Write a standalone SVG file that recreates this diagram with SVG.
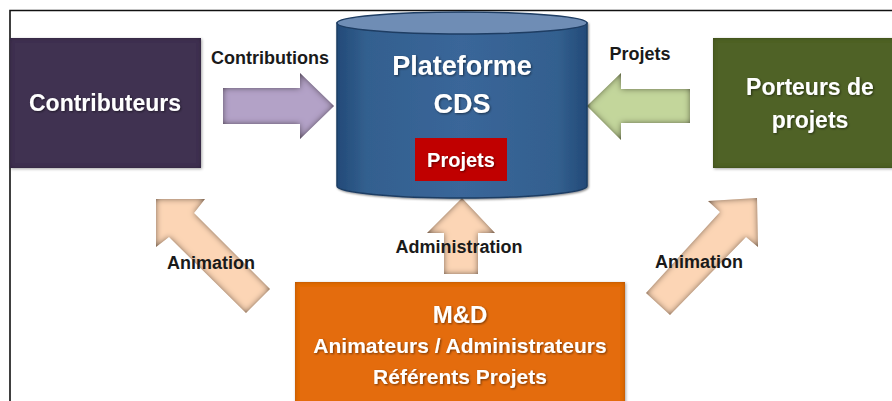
<svg xmlns="http://www.w3.org/2000/svg" width="892" height="401" viewBox="0 0 892 401">
<defs>
<style>
.node-t{font-family:"Liberation Sans",Arial,sans-serif;font-weight:bold;fill:#ffffff;text-anchor:middle;filter:url(#tshadow)}
.lbl{font-family:"Liberation Sans",Arial,sans-serif;font-weight:bold;font-size:18px;fill:#1a1a1a;text-anchor:middle}
.arrow{filter:url(#inner)}
</style>
<filter id="inner" x="-10%" y="-10%" width="120%" height="120%">
<feGaussianBlur in="SourceAlpha" stdDeviation="3" result="b"/>
<feComposite in="SourceAlpha" in2="b" operator="out" result="edge"/>
<feFlood flood-color="#2a1a10" flood-opacity="1"/>
<feComposite in2="edge" operator="in" result="shade"/>
<feMerge><feMergeNode in="SourceGraphic"/><feMergeNode in="shade"/></feMerge>
</filter>
<filter id="box" x="-10%" y="-10%" width="120%" height="120%">
<feGaussianBlur in="SourceAlpha" stdDeviation="2" result="b"/>
<feComposite in="SourceAlpha" in2="b" operator="out" result="edge"/>
<feFlood flood-color="#000000" flood-opacity="0.5"/>
<feComposite in2="edge" operator="in" result="shade"/>
<feDropShadow dx="1" dy="1" stdDeviation="1.5" flood-opacity="0.35" in="SourceGraphic" result="ds"/>
<feMerge><feMergeNode in="ds"/><feMergeNode in="shade"/></feMerge>
</filter>
<filter id="tshadow" x="-5%" y="-20%" width="110%" height="140%">
<feDropShadow dx="1" dy="1" stdDeviation="1" flood-color="#000" flood-opacity="0.5"/>
</filter>
<linearGradient id="cyl" x1="0" y1="0" x2="1" y2="0">
<stop offset="0" stop-color="#234a78"/>
<stop offset="0.12" stop-color="#33608f"/>
<stop offset="0.5" stop-color="#3a6699"/>
<stop offset="0.88" stop-color="#33608f"/>
<stop offset="1" stop-color="#234a78"/>
</linearGradient>
</defs>
<rect width="892" height="401" fill="#ffffff"/>
<path d="M10 401 V10.5 H892" fill="none" stroke="#111" stroke-width="1.6"/>

<g id="connectors">
<g id="c-contributions">
<polygon class="arrow" fill="#b3a2c7" points="223,88 300,88 300,73 334,106 300,139 300,124 223,124"/>
<text class="lbl" x="270" y="64">Contributions</text>
</g>
<g id="c-projets">
<polygon class="arrow" fill="#c3d69b" points="690,89 621,89 621,73 587,106 621,140 621,123 690,123"/>
<text class="lbl" x="640" y="60">Projets</text>
</g>
<g id="c-administration">
<polygon class="arrow" fill="#fcd5b5" points="444,274 444,233 427,233 462,198 495,233 478,233 478,274"/>
<text class="lbl" x="459" y="253">Administration</text>
</g>
<g id="c-animation-left">
<polygon class="arrow" fill="#fcd5b5" points="156,199 205,199 194,213 270,289 246,313 169,237 156,247"/>
<text class="lbl" x="211" y="269">Animation</text>
</g>
<g id="c-animation-right">
<polygon class="arrow" fill="#fcd5b5" points="757,198 758,247 746,237 670,315 646,293 720,212 708,201"/>
<text class="lbl" x="699" y="268">Animation</text>
</g>
</g>

<g id="contributeurs">
<rect x="10" y="38" width="191" height="130" fill="#3f3151" filter="url(#box)"/>
<text class="node-t" x="105" y="111" font-size="23">Contributeurs</text>
</g>

<g id="plateforme">
<path d="M337 23 V186 A125 12 0 0 0 587 186 V23 Z" fill="url(#cyl)" stroke="#1e3d63" stroke-width="1.5" filter="url(#tshadow)"/>
<ellipse cx="462" cy="23" rx="125" ry="11" fill="#6f8db5" stroke="#1e3d63" stroke-width="1.5"/>
<text class="node-t" x="462" y="75" font-size="27">Plateforme</text>
<text class="node-t" x="462" y="113" font-size="27">CDS</text>
<g id="projets">
<rect x="415" y="138" width="92" height="43" fill="#c00000"/>
<text class="node-t" x="461" y="167" font-size="20">Projets</text>
</g>
</g>

<g id="porteurs">
<rect x="713" y="38" width="185" height="130" fill="#4f6228" filter="url(#box)"/>
<text class="node-t" x="810" y="95" font-size="23">Porteurs de</text>
<text class="node-t" x="810" y="128" font-size="23">projets</text>
</g>

<g id="md">
<rect x="295" y="282" width="330" height="125" fill="#e46c0a" filter="url(#box)"/>
<text class="node-t" x="460" y="323" font-size="24">M&amp;D</text>
<text class="node-t" x="460" y="353" font-size="21">Animateurs / Administrateurs</text>
<text class="node-t" x="460" y="384" font-size="21">Référents Projets</text>
</g>
</svg>
